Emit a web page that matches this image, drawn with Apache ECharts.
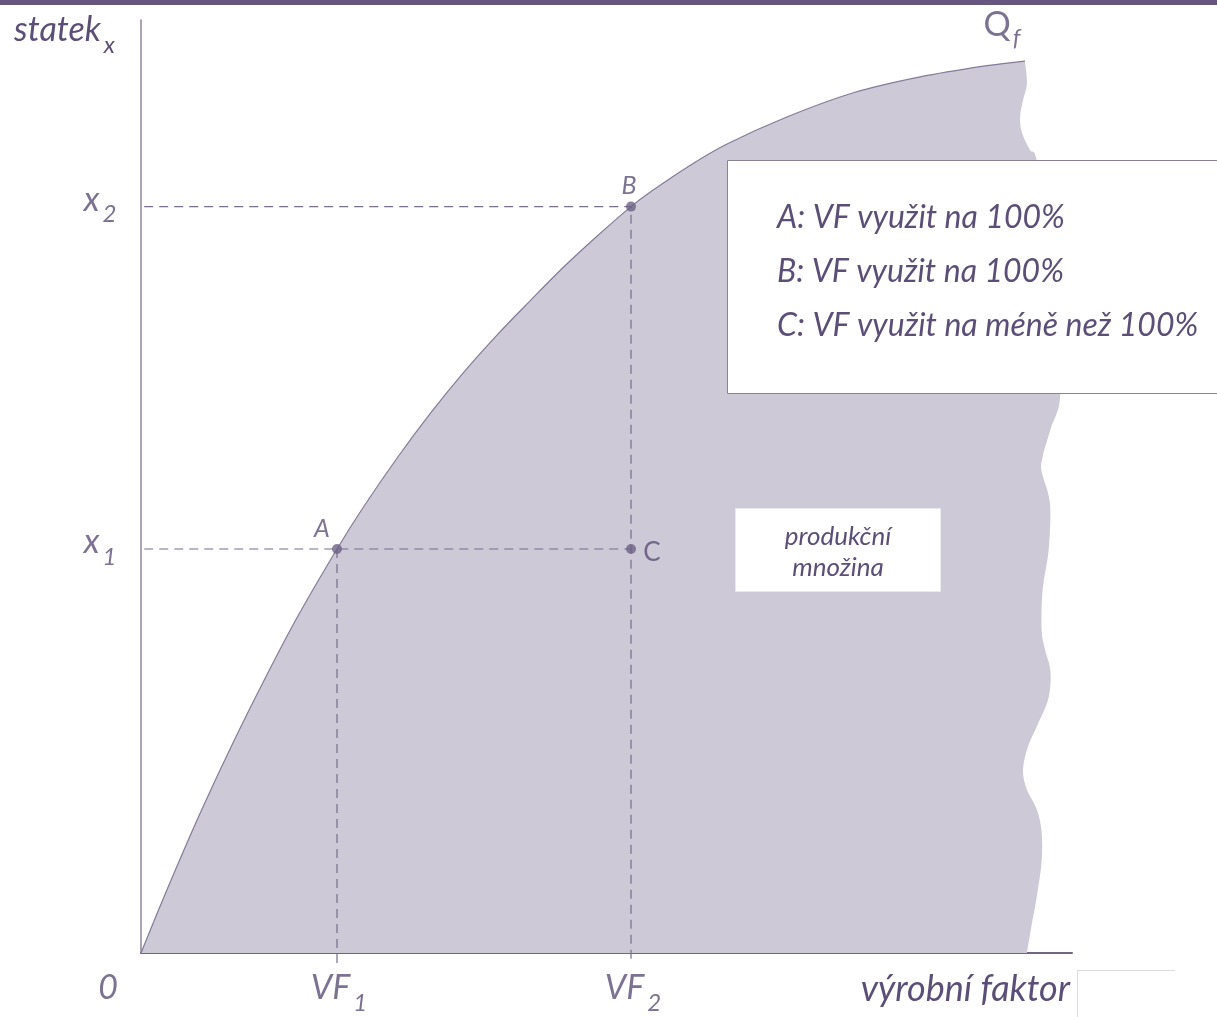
<!DOCTYPE html>
<html>
<head>
<meta charset="utf-8">
<script src="https://cdn.jsdelivr.net/npm/echarts@6/dist/echarts.min.js"></script>
<style>
  html, body { margin: 0; padding: 0; background: #fff; }
  #chart { width: 1217px; height: 1017px; }
</style>
</head>
<body>
<div id="chart"></div>
<script>
// frontier of the production set (Q_f), in axis units
var frontierX = [0, 0.23, 0.57, 0.91, 1.25, 1.59, 2.0, 2.27, 2.61, 2.95, 3.29, 3.63, 3.97, 4.31, 4.65, 5.0, 5.23, 5.57, 5.98, 6.59, 7.27, 7.95, 8.63, 9.02];
var frontierY = [0, 0.59, 1.42, 2.19, 2.91, 3.59, 4.33, 4.78, 5.30, 5.78, 6.22, 6.62, 6.99, 7.35, 7.68, 8.0, 8.18, 8.42, 8.67, 8.96, 9.22, 9.39, 9.51, 9.56];

// ragged right edge of the set, from top to bottom
var edgeX = [9.02, 9.04, 9.0, 8.97, 8.99, 9.07, 9.14, 9.26, 9.34, 9.38, 9.28, 9.20, 9.19, 9.26, 9.28, 9.26, 9.20, 9.19, 9.22, 9.28, 9.26, 9.15, 9.05, 9.0, 9.04, 9.14, 9.19, 9.19, 9.14, 9.09, 9.04];
var edgeY = [9.56, 9.32, 9.14, 8.96, 8.79, 8.61, 8.50, 7.75, 6.78, 5.98, 5.61, 5.32, 5.16, 4.91, 4.71, 4.30, 3.89, 3.47, 3.27, 3.02, 2.73, 2.45, 2.21, 1.96, 1.75, 1.54, 1.30, 0.98, 0.60, 0.31, 0];

// points A, B, C
var pointNames = ['A', 'B', 'C'];
var pointX = [2.0, 5.0, 5.0];
var pointY = [4.33, 8.0, 4.33];

// tick labels
var xTickValues = [0, 2.0, 5.0];
var xTickLabels = ['{m|0}', '{m|VF}{s|1}', '{m|VF}{s|2}'];
var yTickValues = [4.33, 8.0];
var yTickLabels = ['{m|x}{s|1}', '{m|x}{s|2}'];

var legendLines = ['A: VF využit na 100%', 'B: VF využit na 100%', 'C: VF využit na méně než 100%'];

var textColor = '#5b4f77';
var fillColor = '#cdc9d7';
var guideColor = '#776d8e';
var font = 'Lato';

var richText = {
  m: { fontFamily: font, fontStyle: 'italic', fontSize: 34, color: textColor },
  s: { fontFamily: font, fontStyle: 'italic', fontSize: 24, color: textColor, padding: [30, 0, 0, 3] },
  q: { fontFamily: font, fontSize: 34, color: textColor },
  f: { fontFamily: font, fontStyle: 'italic', fontSize: 24, color: textColor, padding: [26, 0, 0, 2] }
};

// catmull-rom curve through screen points, as bezier path commands
function curveThrough(pts) {
  var d = '';
  for (var i = 0; i < pts.length - 1; i++) {
    var p0 = pts[i - 1] || pts[i];
    var p1 = pts[i];
    var p2 = pts[i + 1];
    var p3 = pts[i + 2] || p2;
    d += ' C' + (p1[0] + (p2[0] - p0[0]) / 6) + ' ' + (p1[1] + (p2[1] - p0[1]) / 6) +
      ' ' + (p2[0] - (p3[0] - p1[0]) / 6) + ' ' + (p2[1] - (p3[1] - p1[1]) / 6) +
      ' ' + p2[0] + ' ' + p2[1];
  }
  return d;
}

var tickOut = -0.12;
var guideB = [[tickOut, pointY[1]], [pointX[1], pointY[1]], [pointX[1], tickOut]];
var guideX1 = [[tickOut, pointY[0]], [pointX[2], pointY[2]]];
var guideA = [[pointX[0], pointY[0]], [pointX[0], tickOut]];

function guideSeries(data) {
  return {
    type: 'line',
    data: data,
    symbol: 'none',
    clip: false,
    silent: true,
    z: 5,
    lineStyle: { color: guideColor, width: 1.2, type: [9, 6] }
  };
}

var myChart = echarts.init(document.getElementById('chart'));

var option = {
  animation: false,
  backgroundColor: '#fff',
  grid: { left: 141, right: 145, top: 20, bottom: 64 },
  xAxis: {
    type: 'value',
    min: 0,
    max: 9.5,
    name: 'výrobní faktor',
    nameLocation: 'end',
    nameGap: 0,
    nameTextStyle: {
      fontFamily: font, fontStyle: 'italic', fontSize: 36, color: textColor,
      align: 'right', verticalAlign: 'top', padding: [18, 2, 0, 0]
    },
    axisLine: { lineStyle: { color: '#6f6684', width: 2 } },
    axisTick: { show: false },
    axisLabel: { show: false },
    splitLine: { show: false }
  },
  yAxis: {
    type: 'value',
    min: 0,
    max: 10,
    name: '{m|statek}{s|x}',
    nameLocation: 'end',
    nameGap: -10,
    nameTextStyle: {
      align: 'right', verticalAlign: 'middle', padding: [0, 26, 0, 0],
      rich: richText
    },
    axisLine: { lineStyle: { color: '#8c8599', width: 1.5 } },
    axisTick: { show: false },
    axisLabel: { show: false },
    splitLine: { show: false }
  },
  graphic: [
    { type: 'rect', z: 100, shape: { x: 0, y: 0, width: 1217, height: 5 }, style: { fill: '#65557f' } },
    {
      type: 'rect', z: 100,
      shape: { x: 727.5, y: 160.5, width: 520, height: 233 },
      style: { fill: '#fff', stroke: '#8a8298', lineWidth: 1 }
    },
    {
      type: 'text', z: 101, x: 777, y: 218,
      style: { text: legendLines[0], fill: textColor, font: 'italic 32px ' + font, verticalAlign: 'middle' }
    },
    {
      type: 'text', z: 101, x: 777, y: 272,
      style: { text: legendLines[1], fill: textColor, font: 'italic 32px ' + font, verticalAlign: 'middle' }
    },
    {
      type: 'text', z: 101, x: 777, y: 326,
      style: { text: legendLines[2], fill: textColor, font: 'italic 32px ' + font, verticalAlign: 'middle' }
    },
    {
      type: 'rect', z: 100,
      shape: { x: 735.5, y: 508.5, width: 205, height: 83 },
      style: { fill: '#fff', stroke: '#ebe9f0', lineWidth: 1 }
    },
    {
      type: 'text', z: 101, x: 838, y: 552,
      style: {
        text: 'produkční\nmnožina', fill: textColor, font: 'italic 26px ' + font,
        align: 'center', verticalAlign: 'middle', lineHeight: 31
      }
    },
    {
      type: 'polyline', z: 100,
      shape: { points: [[1077.5, 1017], [1077.5, 970.5], [1175, 970.5]] },
      style: { stroke: '#dcdcdc', lineWidth: 1, fill: null }
    }
  ],
  series: [
    {
      // production set: area under the frontier, closed by the ragged edge
      type: 'custom',
      silent: true,
      z: 2,
      data: [[0, 0]],
      renderItem: function (params, api) {
        var top = frontierX.map(function (x, i) { return api.coord([x, frontierY[i]]); });
        var edge = edgeX.map(function (x, i) { return api.coord([x, edgeY[i]]); });
        var area = 'M' + top[0][0] + ' ' + top[0][1] + curveThrough(top) + curveThrough(edge) + ' Z';
        var line = 'M' + top[0][0] + ' ' + top[0][1] + curveThrough(top);
        return {
          type: 'group',
          children: [
            { type: 'path', shape: { pathData: area }, style: { fill: fillColor, stroke: null } },
            { type: 'path', shape: { pathData: line }, style: { fill: null, stroke: '#857b99', lineWidth: 1.2 } }
          ]
        };
      }
    },
    guideSeries(guideB),
    guideSeries(guideX1),
    guideSeries(guideA),
    {
      type: 'scatter',
      z: 6,
      symbolSize: 10,
      clip: false,
      itemStyle: { color: '#6d6185' },
      label: {
        show: true,
        position: 'inside',
        fontFamily: font,
        fontStyle: 'italic',
        fontSize: 25,
        color: textColor,
        formatter: function (p) { return p.name; }
      },
      data: [
        { name: pointNames[0], value: [pointX[0], pointY[0]], label: { offset: [-15, -20] } },
        { name: pointNames[1], value: [pointX[1], pointY[1]], label: { offset: [-2, -21] } },
        { name: pointNames[2], value: [pointX[2], pointY[2]], label: { offset: [21, 4], fontStyle: 'normal', fontSize: 26 } }
      ]
    },
    {
      // axis tick labels and the Q_f tag, anchored to data positions
      type: 'scatter',
      z: 7,
      symbolSize: 1,
      clip: false,
      silent: true,
      itemStyle: { color: 'rgba(0,0,0,0)' },
      label: {
        show: true,
        position: 'inside',
        rich: richText,
        formatter: function (p) { return p.data.text; }
      },
      data: [
        { value: [xTickValues[0], 0], text: xTickLabels[0], label: { offset: [-33, 35] } },
        { value: [xTickValues[1], 0], text: xTickLabels[1], label: { offset: [2, 35] } },
        { value: [xTickValues[2], 0], text: xTickLabels[2], label: { offset: [2, 35] } },
        { value: [0, yTickValues[0]], text: yTickLabels[0], label: { offset: [-41, -7] } },
        { value: [0, yTickValues[1]], text: yTickLabels[1], label: { offset: [-41, -7] } },
        { value: [frontierX[frontierX.length - 1], frontierY[frontierY.length - 1]], text: '{q|Q}{f|f}', label: { offset: [-23, -36] } }
      ]
    }
  ]
};

myChart.setOption(option);
</script>
</body>
</html>
